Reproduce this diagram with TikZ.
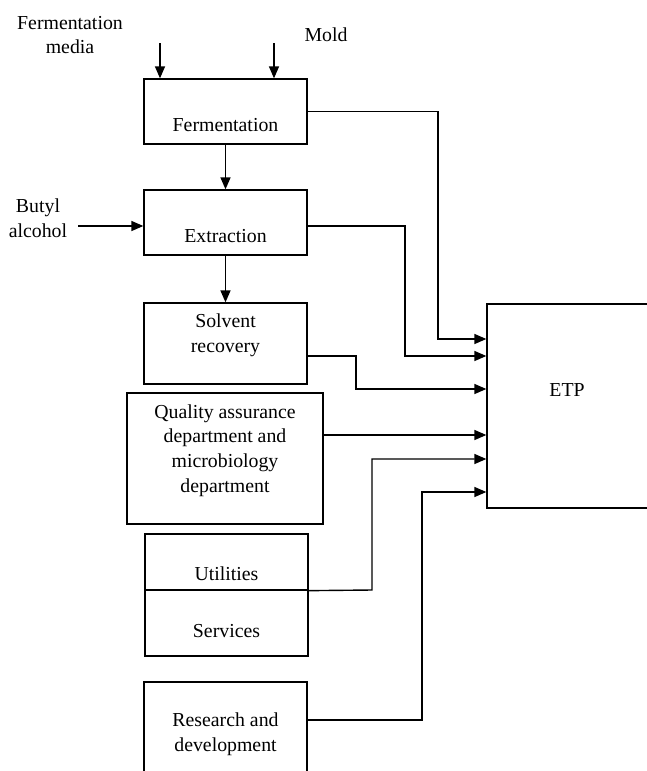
\documentclass[tikz,border=0pt]{standalone}
\usepackage{fontspec}
\setmainfont{Liberation Serif}
\usetikzlibrary{arrows.meta}
\begin{document}
\begin{tikzpicture}[x=0.5pt,y=-0.5pt,
  box/.style={draw, line width=0.65pt, inner sep=0pt, minimum width=81.5pt},
  txt/.style={inner sep=0pt, align=center, font=\fontsize{9.9}{12.4}\selectfont},
  arr/.style={line width=0.7pt, -{Triangle[length=6pt,width=5pt]}}]
\clip (0,0) rectangle (647,771);
\node[box, minimum height=32.5pt] (ferm) at (225.5,111.5){};
\node[box, minimum height=32.5pt] (extr) at (225.5,222.5){};
\node[box, minimum height=40.5pt] (solv) at (225.5,343.5){};
\node[box, minimum width=98pt, minimum height=65.5pt] (qa) at (225,458.5){};
\node[box, minimum height=28pt] (util) at (226.5,562){};
\node[box, minimum height=33pt] (serv) at (226.5,623){};
\node[box, minimum height=54pt] (rnd) at (225.5,736){};
\node[box, minimum width=106.5pt, minimum height=102pt] (etp) at (593.5,406){};
\node[txt] (tmedia) at (70,35){Fermentation\\media};
\node[txt] (tmold) at (326,35){Mold};
\node[txt] (tbutyl) at (38,218){Butyl\\alcohol};
\node[txt] (tferm) at (225.5,125){Fermentation};
\node[txt] (textr) at (225.5,236){Extraction};
\node[txt] (tsolv) at (225.5,335){Solvent\\recovery};
\node[txt] (tqa) at (225,450.5){Quality assurance\\department and\\microbiology\\department};
\node[txt] (tutil) at (226.5,574){Utilities};
\node[txt] (tserv) at (226.5,631){Services};
\node[txt] (trnd) at (225.5,734.5){Research and\\development};
\node[txt] (tetp) at (567,390){ETP};
\coordinate (mediain) at (160,43);
\coordinate (moldin) at (274,43);
\coordinate (butylin) at (78,226);
\draw[arr](mediain) -- (ferm.north -| mediain);
\draw[arr](moldin) -- (ferm.north -| moldin);
\draw[arr](butylin) -- (extr.west |- butylin);
\draw[arr](ferm.south) -- (extr.north);
\draw[arr](extr.south) -- (solv.north);
\draw[arr](ferm.east) -- (438,111.5) |- (etp.west |- 0,339);
\draw[arr](extr.east |- 0,226) -- (405,226) |- (etp.west |- 0,356);
\draw[arr](solv.east |- 0,356) -- (356,356) |- (etp.west |- 0,389);
\draw[arr](qa.east |- 0,435) -- (etp.west |- 0,435);
\draw[arr](util.south east) -- (372,590) |- (etp.west |- 0,459);
\draw[arr](rnd.east |- 0,720) -- (422,720) |- (etp.west |- 0,492);
\end{tikzpicture}
\end{document}
